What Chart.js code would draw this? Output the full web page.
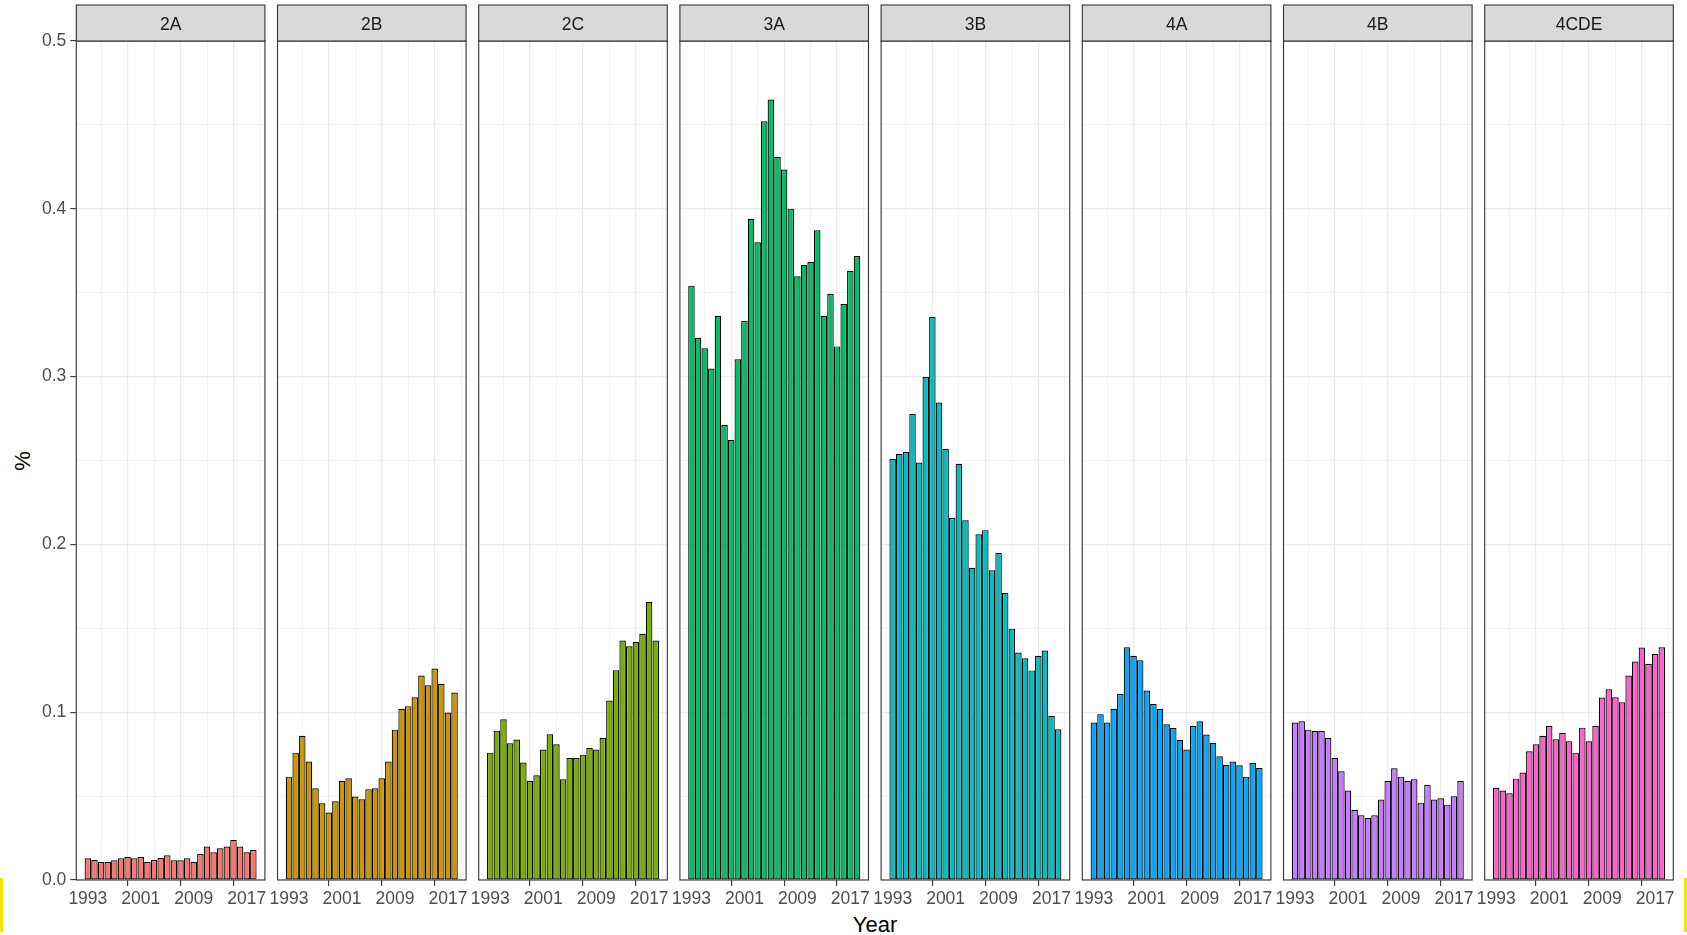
<!DOCTYPE html>
<html>
<head>
<meta charset="utf-8">
<script src="https://cdn.jsdelivr.net/npm/chart.js@4.4.1/dist/chart.umd.min.js"></script>
<style>
  html, body { margin: 0; padding: 0; background: #ffffff; }
  #wrap { position: relative; width: 1687px; height: 935px; overflow: hidden; background: #ffffff; }
  #wrap canvas { position: absolute; left: 0; top: 0; }
  .ttl { position: absolute; font-family: "Liberation Sans", Arial, sans-serif; color: #000000; white-space: nowrap; }
  .edge { position: absolute; background: #f2e205; }
</style>
</head>
<body>
<div id="wrap">
  <div class="ttl" id="ytitle" style="left:13px; top:448px; font-size:22px; transform: rotate(-90deg); transform-origin: center;">%</div>
  <div class="ttl" id="xtitle" style="left:0; width:1750px; text-align:center; top:912px; font-size:22px;">Year</div>
  <div class="edge" style="left:0; top:878px; width:3px; height:54px;"></div>
  <div class="edge" style="left:1684px; top:878px; width:3px; height:54px;"></div>
</div>
<script>
// Years on the x axis (one bar per year)
const years = [1993, 1994, 1995, 1996, 1997, 1998, 1999, 2000, 2001, 2002, 2003, 2004, 2005,
               2006, 2007, 2008, 2009, 2010, 2011, 2012, 2013, 2014, 2015, 2016, 2017, 2018];

// Facet names and fill colours
const panelNames = ['2A', '2B', '2C', '3A', '3B', '4A', '4B', '4CDE'];
const panelColors = ['#F8766D', '#CD9600', '#7CAE00', '#00BE67', '#00BFC4', '#00A9FF', '#C77CFF', '#FF61CC'];

// Share (%) per year for each group
const v2A = [0.0129, 0.0119, 0.0107, 0.0107, 0.0117, 0.0129, 0.0137, 0.0129, 0.0137, 0.0107, 0.0119, 0.0131, 0.0147,
             0.0117, 0.0117, 0.0129, 0.0107, 0.0155, 0.0199, 0.0165, 0.0189, 0.0199, 0.0239, 0.0199, 0.0165, 0.0179];
const v2B = [0.0616, 0.0759, 0.0859, 0.0706, 0.0547, 0.0457, 0.0402, 0.0469, 0.0590, 0.0606, 0.0497, 0.0481, 0.0541,
             0.0547, 0.0606, 0.0706, 0.0896, 0.1020, 0.1036, 0.1089, 0.1218, 0.1161, 0.1260, 0.1169, 0.0998, 0.1117];
const v2C = [0.0759, 0.0890, 0.0958, 0.0815, 0.0837, 0.0700, 0.0590, 0.0624, 0.0777, 0.0869, 0.0809, 0.0600, 0.0727,
             0.0727, 0.0747, 0.0787, 0.0777, 0.0847, 0.1069, 0.1250, 0.1427, 0.1393, 0.1419, 0.1467, 0.1658, 0.1427];
const v3A = [0.3542, 0.3230, 0.3169, 0.3048, 0.3362, 0.2712, 0.2622, 0.3103, 0.3333, 0.3940, 0.3801, 0.4522, 0.4651,
             0.4309, 0.4234, 0.4001, 0.3598, 0.3667, 0.3683, 0.3872, 0.3362, 0.3492, 0.3180, 0.3432, 0.3631, 0.3718];
const v3B = [0.2510, 0.2540, 0.2550, 0.2779, 0.2488, 0.2998, 0.3356, 0.2846, 0.2570, 0.2157, 0.2480, 0.2144, 0.1861,
             0.2060, 0.2085, 0.1846, 0.1950, 0.1711, 0.1498, 0.1356, 0.1321, 0.1249, 0.1336, 0.1368, 0.0978, 0.0898];
const v4A = [0.0938, 0.0988, 0.0938, 0.1020, 0.1109, 0.1387, 0.1336, 0.1310, 0.1129, 0.1049, 0.1020, 0.0928, 0.0906,
             0.0836, 0.0777, 0.0918, 0.0946, 0.0867, 0.0817, 0.0737, 0.0686, 0.0706, 0.0684, 0.0616, 0.0698, 0.0668];
const v4B = [0.0938, 0.0946, 0.0896, 0.0888, 0.0888, 0.0847, 0.0727, 0.0648, 0.0533, 0.0419, 0.0386, 0.0370, 0.0386,
             0.0479, 0.0590, 0.0666, 0.0616, 0.0590, 0.0600, 0.0461, 0.0568, 0.0479, 0.0487, 0.0449, 0.0499, 0.0590];
const v4CDE = [0.0549, 0.0533, 0.0517, 0.0604, 0.0640, 0.0767, 0.0809, 0.0859, 0.0918, 0.0839, 0.0877, 0.0827, 0.0759,
               0.0908, 0.0827, 0.0918, 0.1087, 0.1137, 0.1089, 0.1059, 0.1218, 0.1302, 0.1385, 0.1288, 0.1348, 0.1387];

const panelValues = [v2A, v2B, v2C, v3A, v3B, v4A, v4B, v4CDE];

// Axis ticks: labelled years, every 4 years gets a grid line
const yearTickLabels = [1993, 2001, 2009, 2017];
const yearGridLines = [1993, 1997, 2001, 2005, 2009, 2013, 2017];
const yLabelTicks = [0, 0.1, 0.2, 0.3, 0.4, 0.5];
const yGridLines = [0, 0.05, 0.1, 0.15, 0.2, 0.25, 0.3, 0.35, 0.4, 0.45, 0.5];

// Layout of the facet grid
const W = 1687, H = 935;
const PANEL_LEFT0 = 76.3, PANEL_STEP = 201.2, PANEL_W = 188.6;
const PANEL_TOP = 41, PANEL_BOTTOM = 880, STRIP_TOP = 5;
const X_MIN = 1991.255, X_MAX = 2019.745;
const FONT = '"Liberation Sans", Arial, sans-serif';

Chart.defaults.font.family = FONT;
Chart.defaults.animation = false;

// Draws the grey facet strip and the panel frame
const facetFrame = {
  id: 'facetFrame',
  afterDatasetsDraw(chart, args, opts) {
    const { ctx, chartArea: a } = chart;
    ctx.save();
    ctx.strokeStyle = '#333333';
    ctx.lineWidth = 1.1;
    ctx.strokeRect(a.left, a.top, a.right - a.left, a.bottom - a.top);
    ctx.fillStyle = '#d9d9d9';
    ctx.fillRect(a.left, STRIP_TOP, a.right - a.left, a.top - STRIP_TOP);
    ctx.strokeRect(a.left, STRIP_TOP, a.right - a.left, a.top - STRIP_TOP);
    ctx.fillStyle = '#1a1a1a';
    ctx.font = '17.5px ' + FONT;
    ctx.textAlign = 'center';
    ctx.textBaseline = 'middle';
    ctx.fillText(opts.label, (a.left + a.right) / 2, (STRIP_TOP + a.top) / 2 + 2);
    ctx.restore();
  }
};

const wrap = document.getElementById('wrap');

panelNames.forEach((name, i) => {
  const left = PANEL_LEFT0 + i * PANEL_STEP;
  const right = left + PANEL_W;
  const showY = i === 0;

  const canvas = document.createElement('canvas');
  canvas.width = W; canvas.height = H;
  canvas.style.width = W + 'px'; canvas.style.height = H + 'px';
  wrap.appendChild(canvas);

  const points = years.map((yr, k) => ({ x: yr, y: panelValues[i][k] }));

  new Chart(canvas, {
    type: 'bar',
    data: {
      datasets: [{
        label: name,
        data: points,
        backgroundColor: panelColors[i],
        borderColor: '#000000',
        borderWidth: 1.2,
        borderSkipped: false,
        barPercentage: 0.98,
        categoryPercentage: 1.0
      }]
    },
    options: {
      responsive: false,
      maintainAspectRatio: false,
      devicePixelRatio: 1,
      layout: { autoPadding: false, padding: { top: PANEL_TOP, right: W - right, bottom: 0, left: 0 } },
      plugins: {
        legend: { display: false },
        tooltip: { enabled: false },
        facetFrame: { label: name }
      },
      scales: {
        x: {
          type: 'linear',
          min: X_MIN,
          max: X_MAX,
          offset: false,
          afterBuildTicks: s => { s.ticks = yearGridLines.map(v => ({ value: v })); },
          afterFit: s => { s.height = H - PANEL_BOTTOM; },
          border: { display: false },
          grid: {
            color: '#ebebeb',
            lineWidth: c => (yearTickLabels.includes(c.tick && c.tick.value) ? 1.2 : 0.6),
            drawTicks: true,
            tickLength: 6,
            tickWidth: 1.1,
            tickColor: c => (yearTickLabels.includes(c.tick && c.tick.value) ? '#333333' : 'rgba(0,0,0,0)')
          },
          ticks: {
            autoSkip: false,
            maxRotation: 0,
            minRotation: 0,
            padding: 3,
            color: '#4d4d4d',
            font: { size: 17.5 },
            callback: v => (yearTickLabels.includes(v) ? String(v) : '')
          }
        },
        y: {
          type: 'linear',
          min: 0,
          max: 0.5,
          afterBuildTicks: s => { s.ticks = yGridLines.map(v => ({ value: v })); },
          afterFit: s => { s.width = left; },
          border: { display: false },
          grid: {
            color: '#ebebeb',
            lineWidth: c => (c.index % 2 === 0 ? 1.2 : 0.6),
            drawTicks: showY,
            tickLength: 6,
            tickWidth: 1.1,
            tickColor: c => (showY && c.index % 2 === 0 ? '#333333' : 'rgba(0,0,0,0)')
          },
          ticks: {
            display: showY,
            padding: 4,
            color: '#4d4d4d',
            font: { size: 17.5 },
            callback: (v, idx) => {
              const hit = yLabelTicks.find(t => Math.abs(t - v) < 1e-9);
              return hit === undefined ? '' : hit.toFixed(1);
            }
          }
        }
      }
    },
    plugins: [facetFrame]
  });
});
</script>
</body>
</html>
